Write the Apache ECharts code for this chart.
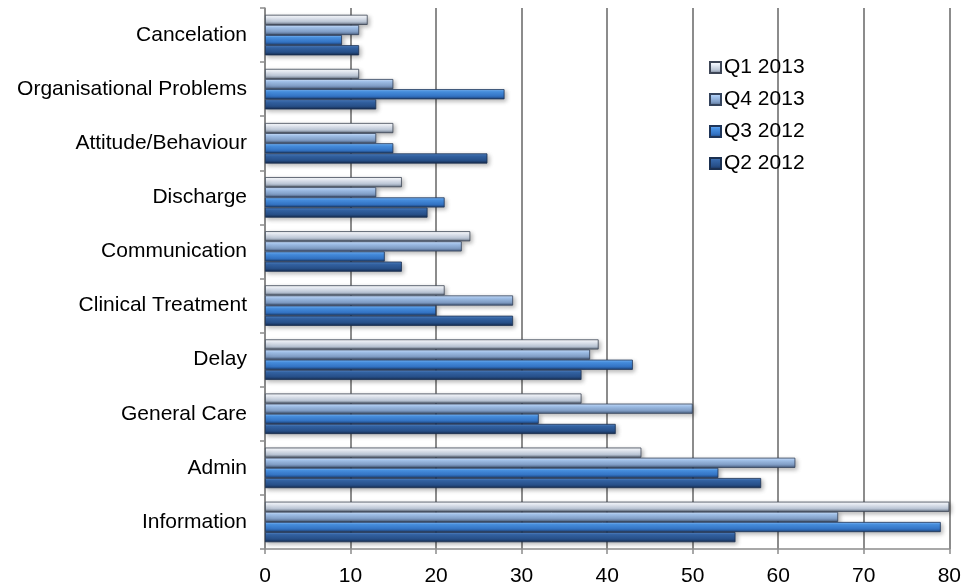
<!DOCTYPE html>
<html>
<head>
<meta charset="utf-8">
<script src="https://cdn.jsdelivr.net/npm/echarts@6/dist/echarts.min.js"></script>
<style>
  html, body { margin: 0; padding: 0; background: #ffffff; }
  #chart { width: 964px; height: 587px; }
</style>
</head>
<body>
<div id="chart"></div>
<script>
// Complaint categories, listed bottom to top along the category axis
var categories = ['Information', 'Admin', 'General Care', 'Delay', 'Clinical Treatment',
  'Communication', 'Discharge', 'Attitude/Behaviour', 'Organisational Problems', 'Cancelation'];

var q2_2012 = [55, 58, 41, 37, 29, 16, 19, 26, 13, 11];
var q3_2012 = [79, 53, 32, 43, 20, 14, 21, 15, 28, 9];
var q4_2013 = [67, 62, 50, 38, 29, 23, 13, 13, 15, 11];
var q1_2013 = [80, 44, 37, 39, 21, 24, 16, 15, 11, 12];

var xTicks = [0, 10, 20, 30, 40, 50, 60, 70, 80];

var FONT = '"Liberation Sans", Arial, sans-serif';

// Bevelled bar fill: bright highlight on top, darker edge underneath
function bevel(top, mid, low, bottom) {
  return new echarts.graphic.LinearGradient(0, 0, 0, 1, [
    { offset: 0, color: top },
    { offset: 0.25, color: mid },
    { offset: 0.7, color: low },
    { offset: 1, color: bottom }
  ]);
}

function barSeries(name, values, fill, edge) {
  return {
    name: name,
    type: 'bar',
    data: values,
    barGap: '0%',
    barCategoryGap: '25%',
    itemStyle: {
      color: fill,
      borderColor: edge,
      borderWidth: 0.8,
      shadowColor: 'rgba(0,0,0,0.28)',
      shadowBlur: 4,
      shadowOffsetX: 2,
      shadowOffsetY: 2
    }
  };
}

var chart = echarts.init(document.getElementById('chart'), null, { renderer: 'canvas' });

chart.setOption({
  animation: false,
  backgroundColor: '#ffffff',
  textStyle: { fontFamily: FONT },
  grid: { left: 265, right: 14, top: 8, bottom: 36, containLabel: false },
  legend: {
    orient: 'vertical',
    left: 704,
    top: 52,
    icon: 'rect',
    itemWidth: 11,
    itemHeight: 11,
    itemGap: 11,
    data: ['Q1 2013', 'Q4 2013', 'Q3 2012', 'Q2 2012'],
    textStyle: { fontSize: 21, color: '#000000', fontFamily: FONT, padding: [0, 0, 0, -2] }
  },
  xAxis: {
    type: 'value',
    min: xTicks[0],
    max: xTicks[xTicks.length - 1],
    interval: 10,
    axisLine: { show: true, lineStyle: { color: '#8c8c8c', width: 1.5 } },
    axisTick: { show: true, length: 5, lineStyle: { color: '#8c8c8c', width: 1.5 } },
    axisLabel: { fontSize: 21, color: '#000000', margin: 17 },
    splitLine: { show: true, lineStyle: { color: '#8c8c8c', width: 2 } }
  },
  yAxis: {
    type: 'category',
    data: categories,
    axisLine: { show: true, lineStyle: { color: '#8c8c8c', width: 1.5 } },
    axisTick: { show: true, length: 5, lineStyle: { color: '#8c8c8c', width: 1.5 } },
    axisLabel: { fontSize: 21, color: '#000000', margin: 18 },
    splitLine: { show: false }
  },
  // First series sits at the top of each category band
  series: [
    barSeries('Q1 2013', q1_2013, bevel('#ffffff', '#eef3fb', '#b9c4d4', '#5f6b7d'), '#3e4656'),
    barSeries('Q4 2013', q4_2013, bevel('#d6e8ff', '#a7c8f2', '#7f9cc4', '#44597a'), '#34435c'),
    barSeries('Q3 2012', q3_2012, bevel('#86c0ff', '#4a94e6', '#3373c4', '#1d3f70'), '#1f3558'),
    barSeries('Q2 2012', q2_2012, bevel('#5b8ccc', '#3566a8', '#274f88', '#15294a'), '#1b3050')
  ]
});
</script>
</body>
</html>
